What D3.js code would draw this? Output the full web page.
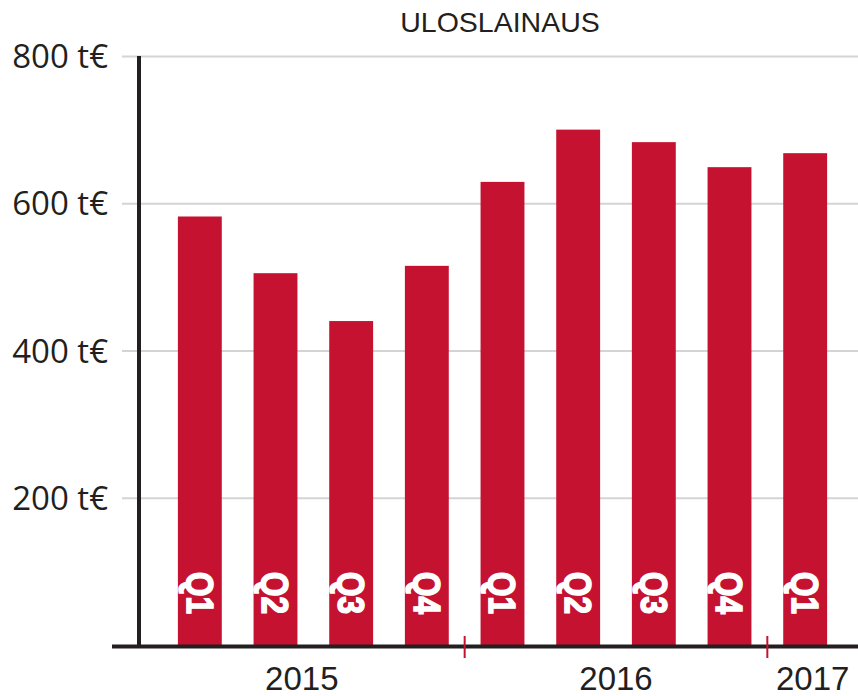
<!DOCTYPE html>
<html>
<head>
<meta charset="utf-8">
<script src="https://cdn.jsdelivr.net/npm/d3@7"></script>
<style>
  body { margin: 0; background: #fff; }
  svg { display: block; }
</style>
</head>
<body>
<div id="chart"></div>
<script>
// data
const quarters = ["Q1", "Q2", "Q3", "Q4", "Q1", "Q2", "Q3", "Q4", "Q1"];
const years = [2015, 2015, 2015, 2015, 2016, 2016, 2016, 2016, 2017];
const values = [582, 505, 440, 515, 629, 700, 683, 649, 668];
const yTicks = [200, 400, 600, 800];
const title = "ULOSLAINAUS";

const width = 858, height = 696;
const dark = "#231f20", red = "#c41230", grid = "#d4d4d4";

const svg = d3.select("#chart").append("svg")
    .attr("width", width)
    .attr("height", height);

const ids = values.map((v, i) => i);

const y = d3.scaleLinear()
    .domain([0, 800])
    .range([645, 56]);

const x = d3.scaleBand()
    .domain(ids)
    .range([162, 843])
    .paddingInner(0.42)
    .paddingOuter(0.21);

// title
svg.append("text")
    .attr("x", 500)
    .attr("y", 32)
    .attr("text-anchor", "middle")
    .attr("fill", dark)
    .style("font-family", "'Liberation Sans', Arial, sans-serif")
    .style("font-size", "28.5px")
    .text(title);

// gridlines + y labels
const yAxis = d3.axisRight(y)
    .tickValues(yTicks)
    .tickSize(width - 122)
    .tickFormat(d => d + " t€");

const gy = svg.append("g")
    .attr("transform", "translate(122,0)")
    .call(yAxis);
gy.select(".domain").remove();
gy.selectAll(".tick line")
    .attr("stroke", grid)
    .attr("stroke-width", 2);
gy.selectAll(".tick text")
    .attr("x", -14)
    .attr("dy", "0.35em")
    .attr("text-anchor", "end")
    .attr("fill", dark)
    .style("font-family", "'Open Sans', sans-serif")
    .style("font-size", "33px");

// bars
svg.append("g")
    .selectAll("rect")
    .data(ids)
    .join("rect")
        .attr("x", i => x(i))
        .attr("y", i => y(values[i]))
        .attr("width", x.bandwidth())
        .attr("height", i => y(0) - y(values[i]))
        .attr("fill", red);

// quarter labels inside bars
svg.append("g")
    .selectAll("text")
    .data(ids)
    .join("text")
        .attr("transform", i => `translate(${x(i) + x.bandwidth() / 2},572) rotate(90)`)
        .attr("dy", "0.36em")
        .attr("fill", "#fff")
        .attr("stroke", "#fff")
        .attr("stroke-width", 1.6)
        .attr("textLength", 42)
        .attr("lengthAdjust", "spacingAndGlyphs")
        .style("font-family", "'Liberation Sans', Arial, sans-serif")
        .style("font-weight", "bold")
        .style("font-size", "37px")
        .text(i => quarters[i]);

// axes lines
svg.append("line")
    .attr("x1", 139).attr("x2", 139)
    .attr("y1", 56).attr("y2", 648)
    .attr("stroke", dark)
    .attr("stroke-width", 4);

svg.append("line")
    .attr("x1", 112).attr("x2", width)
    .attr("y1", 646.5).attr("y2", 646.5)
    .attr("stroke", dark)
    .attr("stroke-width", 4);

// year boundaries and labels
const yearList = Array.from(new Set(years));
const step = x.step();
const bounds = yearList.map(yr => {
    const first = years.indexOf(yr);
    const last = years.lastIndexOf(yr);
    const left = first === 0 ? 139 : x(first) - step * x.paddingInner() / 2;
    const right = last === years.length - 1 ? width : x(last) + x.bandwidth() + step * x.paddingInner() / 2;
    return { yr, left, right };
});

svg.append("g")
    .selectAll("line")
    .data(bounds.slice(1))
    .join("line")
        .attr("x1", d => d.left).attr("x2", d => d.left)
        .attr("y1", 636).attr("y2", 658)
        .attr("stroke", red)
        .attr("stroke-width", 2);

svg.append("g")
    .selectAll("text")
    .data(bounds)
    .join("text")
        .attr("x", d => (d.left + d.right) / 2)
        .attr("y", 690)
        .attr("text-anchor", "middle")
        .attr("fill", dark)
        .style("font-family", "'Liberation Sans', Arial, sans-serif")
        .style("font-size", "33px")
        .text(d => d.yr);
</script>
</body>
</html>
